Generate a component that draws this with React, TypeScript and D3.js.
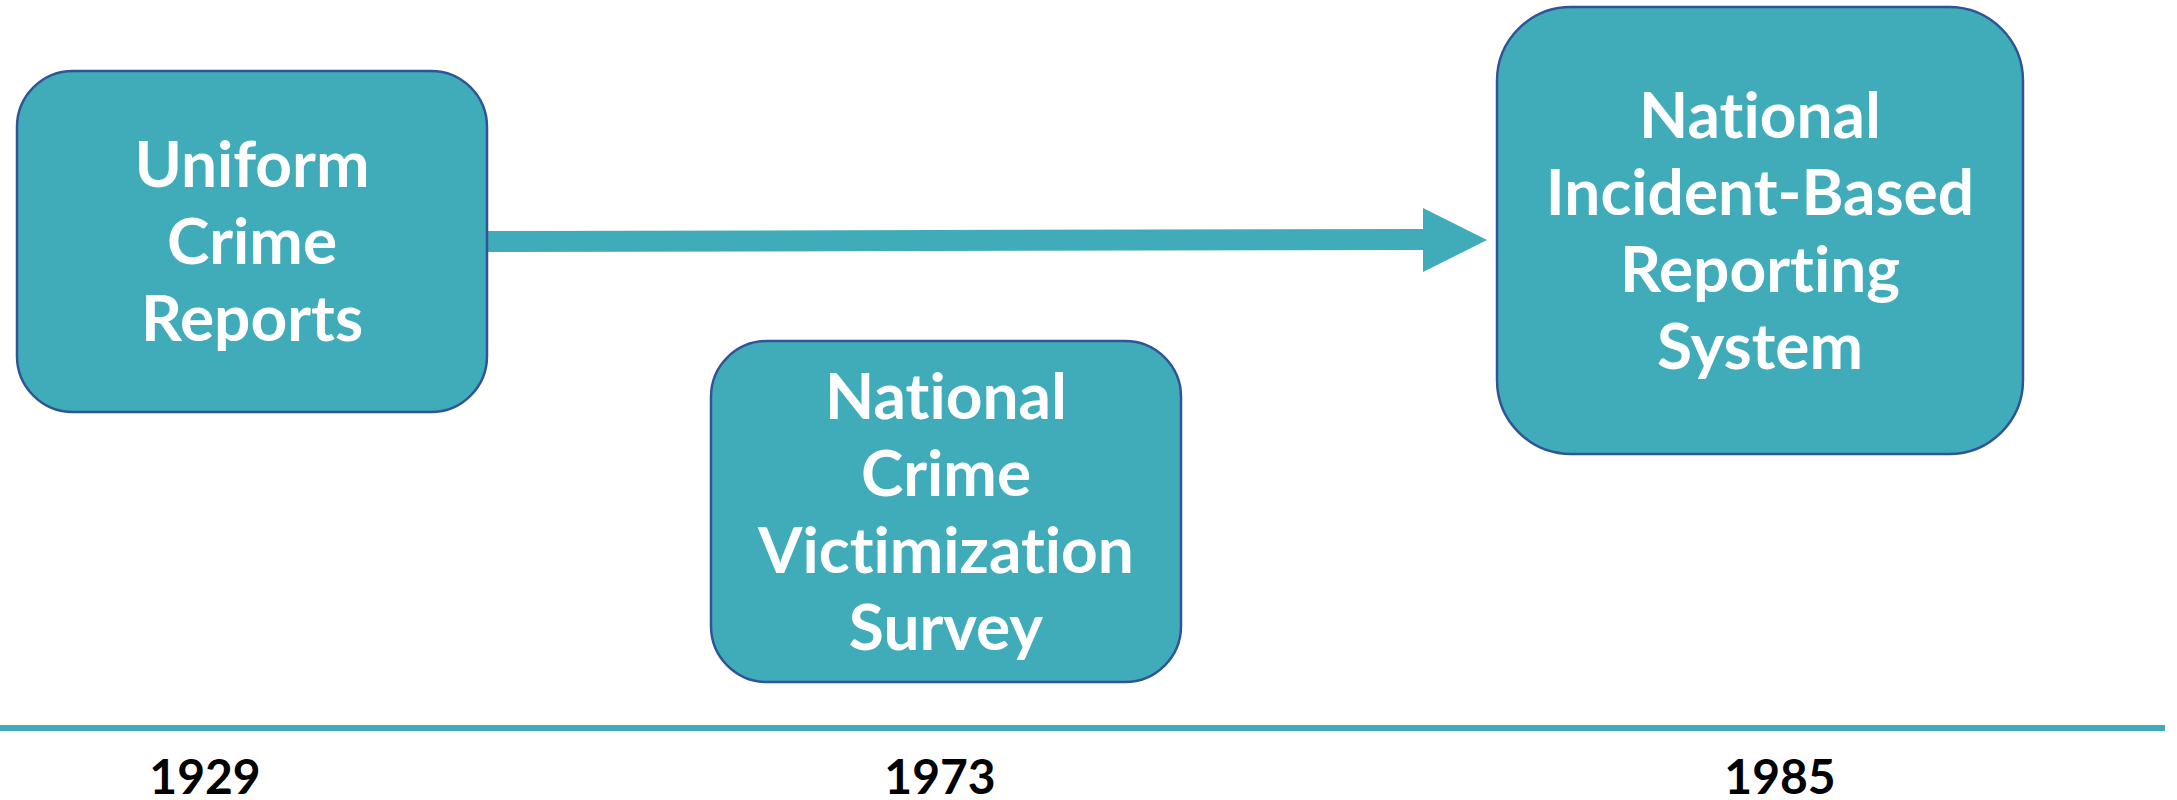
import React from "react";
import * as d3 from "d3";

const years = ["1929", "1973", "1985"];
const programs = [
  ["Uniform", "Crime", "Reports"],
  ["National", "Crime", "Victimization", "Survey"],
  ["National", "Incident-Based", "Reporting", "System"],
];

const W = 2177;
const H = 800;
const TEAL = "#41acb9";
const BORDER = "#2f5597";

// layout (pixels)
const boxes = [
  { x0: 17, x1: 487, y0: 71, y1: 412, r: 56 },
  { x0: 711, x1: 1181, y0: 341, y1: 682, r: 56 },
  { x0: 1497, x1: 2023, y0: 7, y1: 454, r: 74 },
];
const yearX = [205, 940, 1780];

function roundedRectPath(b: { x0: number; x1: number; y0: number; y1: number; r: number }) {
  const p = d3.path();
  const { x0, x1, y0, y1, r } = b;
  p.moveTo(x0 + r, y0);
  p.lineTo(x1 - r, y0);
  p.arcTo(x1, y0, x1, y0 + r, r);
  p.lineTo(x1, y1 - r);
  p.arcTo(x1, y1, x1 - r, y1, r);
  p.lineTo(x0 + r, y1);
  p.arcTo(x0, y1, x0, y1 - r, r);
  p.lineTo(x0, y0 + r);
  p.arcTo(x0, y0, x0 + r, y0, r);
  p.closePath();
  return p.toString();
}

export default function App() {
  const fontSize = 64;
  const lineH = 77;
  const capH = fontSize * 0.717;

  const arrow = d3.line()([
    [487, 231],
    [1423, 229],
    [1423, 208],
    [1487, 240],
    [1423, 272],
    [1423, 250],
    [487, 252],
  ]) + "Z";

  return (
    <svg
      width={W}
      height={H}
      style={{ position: "absolute", left: 0, top: 0, background: "#fff", fontVariantLigatures: "none", fontFeatureSettings: "'liga' 0, 'clig' 0" }}
      fontFamily="Lato, 'Open Sans', sans-serif"
    >
      <rect x={0} y={0} width={W} height={H} fill="#fff" />
      <path d={arrow} fill={TEAL} />
      {boxes.map((b, i) => {
        const lines = programs[i];
        const cx = (b.x0 + b.x1) / 2;
        const cy = (b.y0 + b.y1) / 2;
        const n = lines.length;
        const firstBaseline = cy - ((n - 1) * lineH) / 2 + capH / 2;
        return (
          <g key={i}>
            <path d={roundedRectPath(b)} fill={TEAL} stroke={BORDER} strokeWidth={2.5} />
            {lines.map((t, j) => (
              <text
                key={j}
                x={cx}
                y={firstBaseline + j * lineH}
                textAnchor="middle"
                fill="#fff"
                fontWeight="bold"
                fontSize={fontSize}
                style={{ fontVariantLigatures: "none", fontFeatureSettings: "'liga' 0, 'clig' 0" }}
              >
                {t}
              </text>
            ))}
          </g>
        );
      })}
      <rect x={0} y={725} width={2165} height={6} fill={TEAL} />
      {years.map((y, i) => (
        <text
          key={y}
          x={yearX[i]}
          y={794}
          textAnchor="middle"
          fill="#000"
          fontWeight="bold"
          fontSize={48}
        >
          {y}
        </text>
      ))}
    </svg>
  );
}
